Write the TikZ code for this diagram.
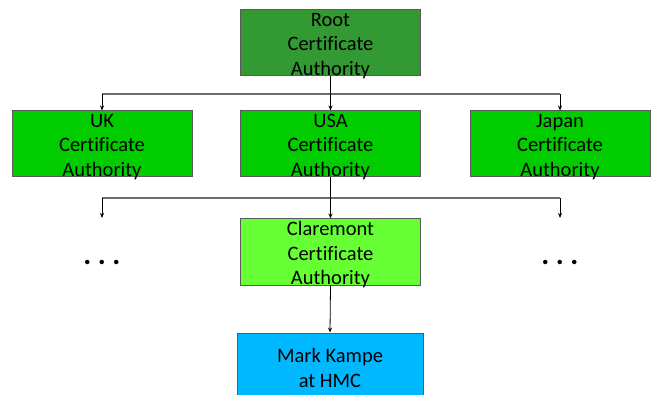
\documentclass[tikz,border=0pt]{standalone}
\usepackage{fontspec}
\setmainfont{Carlito}[Ligatures=NoCommon]
\usepackage{xcolor}
\usetikzlibrary{arrows.meta}
\definecolor{rootgreen}{HTML}{339933}
\definecolor{cagreen}{HTML}{00CC00}
\definecolor{localgreen}{HTML}{66FF33}
\definecolor{userblue}{HTML}{00B8FF}
\definecolor{rimgray}{HTML}{5A5A5A}
\tikzset{
  cabox/.style={draw=rimgray, line width=1pt, minimum width=180pt, minimum height=66pt, inner sep=0pt},
  calabel/.style={align=center, font=\fontsize{20.5}{24.5}\selectfont},
  link/.style={-{Stealth[length=5pt,width=4pt]}, line width=0.8pt, black},
  bar/.style={line width=1.6pt, gray!85!black},
  elided/.style={inner sep=0pt, font=\fontsize{30}{30}\selectfont\bfseries},
}

\begin{document}
\begin{tikzpicture}[x=1pt, y=-1pt]
    \useasboundingbox (0,0) rectangle (658,395);
    % authorities
    \node[cabox, fill=rootgreen] (root) at (330.5,43) {};
    \node[calabel, yshift=-3pt] (rootlbl) at (root.center) {Root\\Certificate\\Authority};
    \node[cabox, fill=cagreen] (uk) at (102,144) {};
    \node[calabel, yshift=-3pt] (uklbl) at (uk.center) {UK\\Certificate\\Authority};
    \node[cabox, fill=cagreen] (usa) at (330.5,144) {};
    \node[calabel, yshift=-3pt] (usalbl) at (usa.center) {USA\\Certificate\\Authority};
    \node[cabox, fill=cagreen] (japan) at (560,144) {};
    \node[calabel, yshift=-3pt] (japanlbl) at (japan.center) {Japan\\Certificate\\Authority};
    \node[cabox, fill=localgreen] (claremont) at (330.5,252) {};
    \node[calabel, yshift=-3pt] (claremontlbl) at (claremont.center) {Claremont\\Certificate\\Authority};
    \node[cabox, fill=userblue, minimum width=186pt, minimum height=72pt] (user) at (330,369) {};
    \node[calabel, yshift=1pt] (userlbl) at (user.center) {Mark Kampe\\at HMC};
    % elided branches
    \node[elided] (moreleft) at (102,262) {.\kern6.5pt.\kern6.5pt.};
    \node[elided] (moreright) at (560,262) {.\kern6.5pt.\kern6.5pt.};
    % fan-out points
    \coordinate (toplft) at (102,94);
    \coordinate (toprgt) at (560,94);
    \coordinate (midlft) at (102,198);
    \coordinate (midrgt) at (560,198);
    \coordinate (endlft) at (102,218);
    \coordinate (endrgt) at (560,218);
    \draw[bar] (toplft) -- (toprgt);
    \draw[bar] (midlft) -- (midrgt);
    \draw[link] (root.south) -- (usa.north);
    \draw[link] (toplft) -- (uk.north);
    \draw[link] (toprgt) -- (japan.north);
    \draw[link] (usa.south) -- (claremont.north);
    \draw[link] (midlft) -- (endlft);
    \draw[link] (midrgt) -- (endrgt);
    \draw[link] (claremont.south) -- (user.north);
\end{tikzpicture}
\end{document}
